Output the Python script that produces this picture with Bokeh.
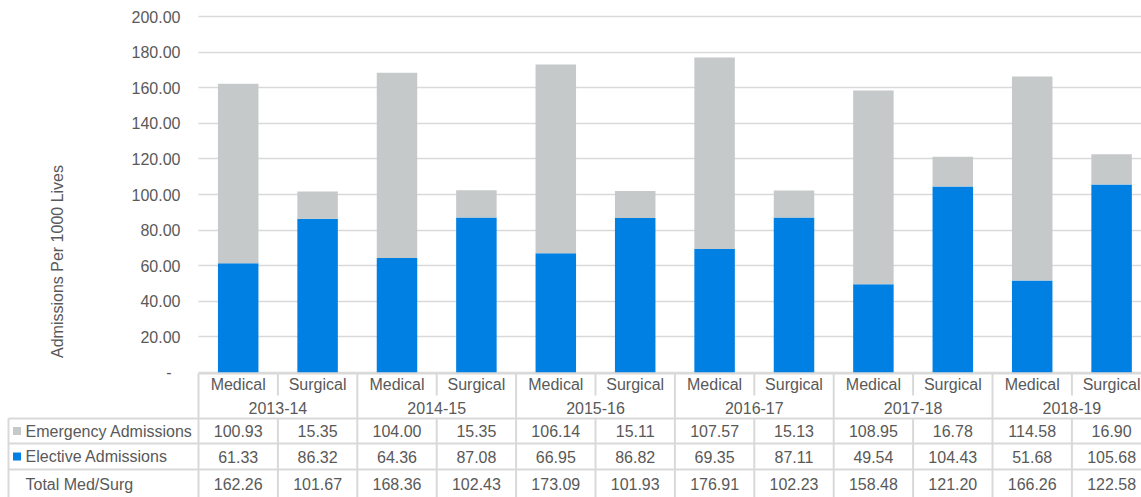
import math
from bokeh.plotting import figure
from bokeh.models import Range1d, FixedTicker, ColumnDataSource
from bokeh.core.properties import value
from bokeh.embed import file_html
from bokeh.resources import INLINE

years = ["2013-14", "2014-15", "2015-16", "2016-17", "2017-18", "2018-19"]
kinds = ["Medical", "Surgical"]
emergency = [100.93, 15.35, 104.00, 15.35, 106.14, 15.11, 107.57, 15.13, 108.95, 16.78, 114.58, 16.90]
elective = [61.33, 86.32, 64.36, 87.08, 66.95, 86.82, 69.35, 87.11, 49.54, 104.43, 51.68, 105.68]
total = [162.26, 101.67, 168.36, 102.43, 173.09, 101.93, 176.91, 102.23, 158.48, 121.20, 166.26, 122.58]
series_names = ["Emergency Admissions", "Elective Admissions", "Total Med/Surg"]
y_ticks = [0, 20, 40, 60, 80, 100, 120, 140, 160, 180, 200]
y_title = "Admissions Per 1000 Lives"

GRAY = "#C6C9CA"
BLUE = "#0080E3"
TXT = "#595959"
LINE = "#D9D9D9"
FONT = "Liberation Sans"
FS = "16px"

W, H = 1141, 497
n = len(emergency)
colw = 79.4            # px per column
x0_px = 198            # page x of first column
y0_px = 372            # page y of value 0
ppu = 356 / 200        # px per value unit

def px_x(X):           # page x -> data x
    return (X - x0_px) / colw

def px_y(Y):           # page y -> data y
    return (y0_px - Y) / ppu

p = figure(width=W, height=H, output_backend="svg", toolbar_location=None,
           x_range=Range1d(px_x(0), px_x(W)), y_range=Range1d(px_y(H), px_y(0)),
           min_border_left=0, min_border_right=0, min_border_top=0, min_border_bottom=0)
p.axis.visible = False
p.xgrid.visible = False
p.outline_line_color = None
p.ygrid.ticker = FixedTicker(ticks=y_ticks)
p.ygrid.grid_line_color = LINE
p.ygrid.grid_line_width = 1.5
p.ygrid.cross_bounds = (0, px_x(W))

# ---- bars ----
src = ColumnDataSource(dict(x=[i + 0.5 for i in range(n)], elective=elective, emergency=emergency))
p.vbar_stack(["elective", "emergency"], x="x", width=0.51, color=[BLUE, GRAY],
             line_color=None, source=src)

common = dict(text_font=value(FONT), text_font_size=value(FS), text_color=TXT,
              text_baseline="middle")

# ---- y tick labels and title ----
tick_text = ["-\u00a0\u00a0" if v == 0 else f"{v:.2f}" for v in y_ticks]
p.text(x=[px_x(180)] * len(y_ticks), y=y_ticks, text=tick_text, text_align="right", **common)
p.text(x=[px_x(57)], y=[px_y(261)], text=[y_title], text_align="center",
       angle=math.pi / 2, **common)

# ---- table ----
xl = px_x(8)
xr = px_x(W) + 1
h_top, h_mid, r1, r2, r3, r_end = [px_y(v) for v in (373, 395, 418, 443, 469, 500)]
hx0 = [0] + [xl] * 3
hy = [h_top, r1, r2, r3]
p.segment(x0=hx0, y0=hy, x1=[xr] * 4, y1=hy, line_color=LINE, line_width=2)
vx, vy0, vy1 = [xl, 0], [r1, h_top], [r_end, r_end]
for i in range(1, n + 1):
    if i % 2 == 1:
        vx += [i, i]; vy0 += [h_top, r1]; vy1 += [h_mid, r_end]
    else:
        vx.append(i); vy0.append(h_top); vy1.append(r_end)
p.segment(x0=vx, y0=vy0, x1=vx, y1=vy1, line_color=LINE, line_width=2)

row_centers = [px_y(v) for v in (430.5, 456, 483.5)]
p.text(x=[i + 0.5 for i in range(n)], y=[px_y(384)] * n,
       text=[kinds[i % 2] for i in range(n)], text_align="center", **common)
p.text(x=[2 * g + 1 for g in range(len(years))], y=[px_y(407)] * len(years),
       text=years, text_align="center", **common)
p.text(x=[px_x(25)] * 3, y=row_centers, text=series_names, text_align="left", **common)
p.scatter(x=[px_x(16.5)] * 2, y=row_centers[:2], marker="square", size=8,
          color=[GRAY, BLUE], line_color=None)
for vals, yc in zip([emergency, elective, total], row_centers):
    p.text(x=[i + 0.5 for i in range(n)], y=[yc] * n,
           text=[f"{v:.2f}" for v in vals], text_align="center", **common)

open("out.html", "w").write(file_html(p, INLINE))
